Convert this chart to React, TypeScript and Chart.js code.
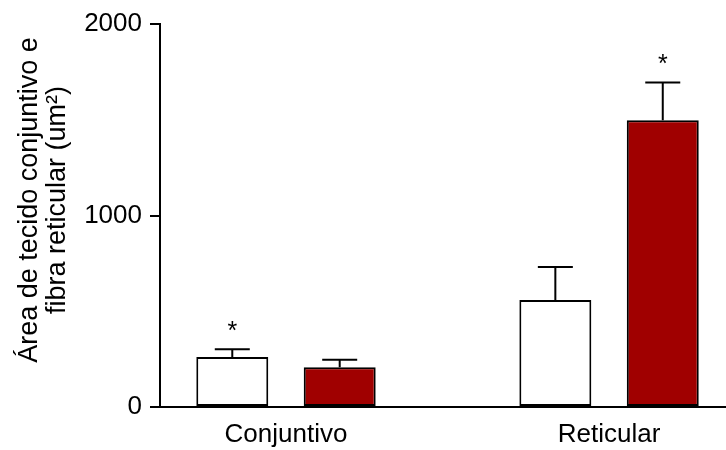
import React, { useEffect, useRef } from "react";
import { Chart, registerables } from "chart.js";

Chart.register(...registerables);

// ---- data ----
const categories = ["Conjuntivo", "Reticular"];
const categoryPositions = [0, 1];
const controlValues = [261, 559];
const controlErrors = [40, 172];
const controlMarks = ["*", ""];
const treatedValues = [207, 1498];
const treatedErrors = [40, 197];
const treatedMarks = ["", "*"];
const yTicks = [0, 1000, 2000];
const yTitle = ["Área de tecido conjuntivo e", "fibra reticular (um²)"];

const FONT = "'Liberation Sans', Arial, Helvetica, sans-serif";

const errorBarPlugin = {
  id: "errorBars",
  afterDatasetsDraw(chart: any) {
    const ctx = chart.ctx;
    const yScale = chart.scales.y;
    chart.data.datasets.forEach((ds: any, di: number) => {
      const meta = chart.getDatasetMeta(di);
      meta.data.forEach((bar: any, i: number) => {
        const v = ds.values[i];
        const e = ds.errors[i];
        const top = yScale.getPixelForValue(v + e);
        const base = yScale.getPixelForValue(v);
        ctx.save();
        ctx.strokeStyle = "#000";
        ctx.lineWidth = 2;
        ctx.beginPath();
        ctx.moveTo(bar.x, base);
        ctx.lineTo(bar.x, top);
        ctx.moveTo(bar.x - 17.5, top);
        ctx.lineTo(bar.x + 17.5, top);
        ctx.stroke();
        const mark = ds.marks[i];
        if (mark) {
          ctx.fillStyle = "#000";
          ctx.font = `25px ${FONT}`;
          ctx.textAlign = "center";
          ctx.textBaseline = "alphabetic";
          ctx.fillText(mark, bar.x, top - 10);
        }
        ctx.restore();
      });
    });
  },
};

const yTitlePlugin = {
  id: "yTitle",
  afterDraw(chart: any) {
    const ctx = chart.ctx;
    const baselines = [37, 65];
    const cy = 200;
    ctx.save();
    ctx.fillStyle = "#000";
    ctx.font = `27px ${FONT}`;
    ctx.textAlign = "center";
    ctx.textBaseline = "alphabetic";
    yTitle.forEach((line, i) => {
      ctx.save();
      ctx.translate(baselines[i], cy);
      ctx.rotate(-Math.PI / 2);
      ctx.fillText(line, 0, 0);
      ctx.restore();
    });
    ctx.restore();
  },
};

export default function App() {
  const canvasRef = useRef<HTMLCanvasElement | null>(null);

  useEffect(() => {
    if (!canvasRef.current) return;
    const tickFont = { family: FONT, size: 26 };
    const chart = new Chart(canvasRef.current, {
      type: "bar",
      data: {
        datasets: [
          {
            label: "Controle",
            data: categoryPositions.map((x, i) => ({ x, y: controlValues[i] })),
            values: controlValues,
            errors: controlErrors,
            marks: controlMarks,
            backgroundColor: "#ffffff",
            borderColor: "#000000",
            borderWidth: 2,
            borderSkipped: false,
          } as any,
          {
            label: "Tratado",
            data: categoryPositions.map((x, i) => ({ x, y: treatedValues[i] })),
            values: treatedValues,
            errors: treatedErrors,
            marks: treatedMarks,
            backgroundColor: "#a00000",
            borderColor: "#000000",
            borderWidth: 2,
            borderSkipped: false,
          } as any,
        ],
      },
      options: {
        animation: false,
        responsive: false,
        maintainAspectRatio: false,
        layout: { padding: { top: 24, right: 0, bottom: 0, left: 0 } },
        plugins: {
          legend: { display: false },
          tooltip: { enabled: false },
        },
        datasets: {
          bar: { categoryPercentage: 0.665, barPercentage: 0.67 },
        },
        scales: {
          x: {
            type: "linear",
            offset: false,
            min: -0.39,
            max: 1.362,
            afterBuildTicks: (s: any) => {
              s.ticks = categoryPositions.map((v) => ({ value: v }));
            },
            afterFit: (s: any) => {
              s.height = 43;
            },
            ticks: {
              callback: (_v: any, index: number) => categories[index] ?? "",
              font: tickFont,
              color: "#000",
              padding: 12,
              autoSkip: false,
              maxRotation: 0,
            },
            grid: { display: false, drawTicks: false, offset: false },
            border: { display: true, color: "#000", width: 2 },
          },
          y: {
            type: "linear",
            min: 0,
            max: 2000,
            afterBuildTicks: (s: any) => {
              s.ticks = yTicks.map((v) => ({ value: v }));
            },
            afterFit: (s: any) => {
              s.width = 160;
            },
            ticks: {
              font: tickFont,
              color: "#000",
              padding: 8,
              callback: (v: any) => String(v),
            },
            grid: {
              drawOnChartArea: false,
              drawTicks: true,
              tickLength: 10,
              color: "#000",
              lineWidth: 2,
            },
            border: { display: true, color: "#000", width: 2 },
          },
        },
      } as any,
      plugins: [errorBarPlugin, yTitlePlugin],
    });
    return () => chart.destroy();
  }, []);

  return (
    <div style={{ position: "fixed", left: 0, top: 0, width: 726, height: 450, background: "#fff" }}>
      <canvas ref={canvasRef} width={726} height={450} style={{ display: "block" }} />
    </div>
  );
}
